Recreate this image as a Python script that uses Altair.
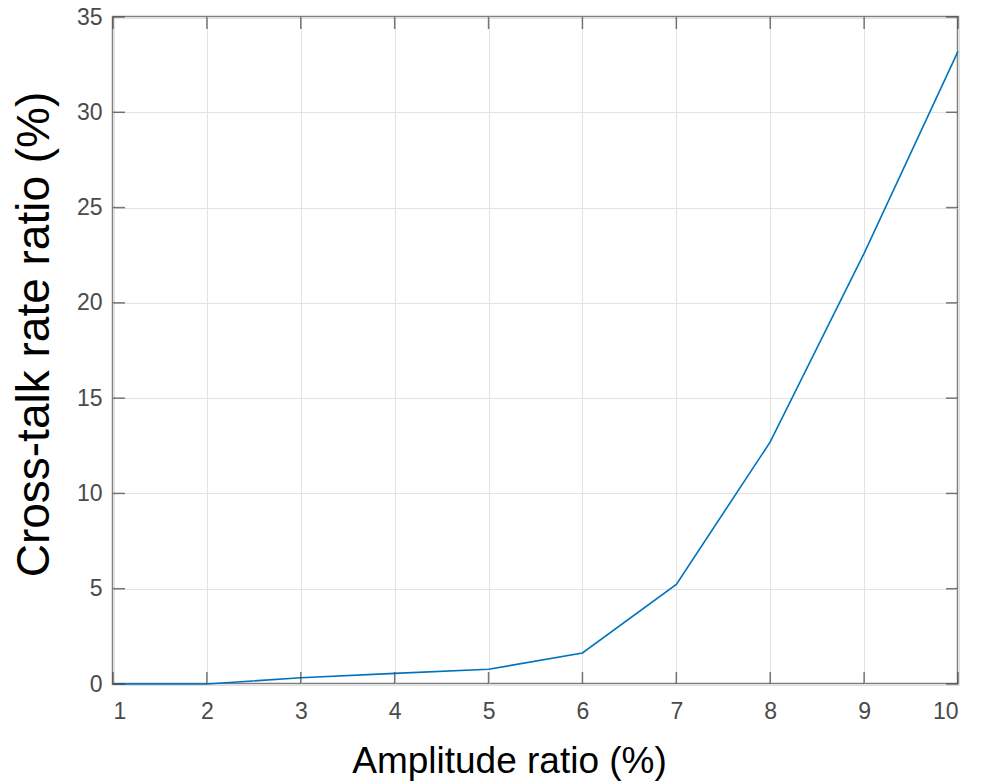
import altair as alt
import pandas as pd

amplitude = [1, 2, 3, 4, 5, 6, 7, 8, 9, 10]
crosstalk = [0.0, 0.0, 0.33, 0.56, 0.77, 1.63, 5.23, 12.7, 22.6, 33.2]
x_ticks = list(range(1, 11))
y_ticks = [0, 5, 10, 15, 20, 25, 30, 35]

df = pd.DataFrame({"a": amplitude, "c": crosstalk})
xt = pd.DataFrame({"a": x_ticks})
yt = pd.DataFrame({"c": y_ticks})

font = "Liberation Sans"
xs = alt.Scale(domain=[1, 10], nice=False, zero=False)
ys = alt.Scale(domain=[0, 35], nice=False)
tick_col = "#404040"
lab_col = "#4a4a4a"

main = alt.Chart(df).mark_line(color="#0072BD", strokeWidth=1.6).encode(
    x=alt.X("a:Q", scale=xs, title="Amplitude ratio (%)",
            axis=alt.Axis(values=x_ticks, format="d", orient="bottom", grid=True,
                          gridColor="#e3e3e3", gridWidth=1, domain=False, ticks=False,
                          labelFont=font, labelFontSize=23, labelColor=lab_col,
                          labelPadding=16, titleFont=font, titleFontSize=37,
                          titleFontWeight="normal", titleColor="#000000",
                          titleX=396, titleY=77, titleBaseline="middle", titleAlign="center")),
    y=alt.Y("c:Q", scale=ys, title="Cross-talk rate ratio (%)",
            axis=alt.Axis(values=y_ticks, format="d", orient="left", grid=True,
                          gridColor="#e3e3e3", gridWidth=1, domain=False, ticks=False,
                          labelFont=font, labelFontSize=23, labelColor=lab_col,
                          labelPadding=11, titleFont=font, titleFontSize=46,
                          titleFontWeight="normal", titleColor="#000000",
                          titleX=-79, titleY=317, titleBaseline="middle", titleAlign="center",
                          titleAngle=270)),
)

bottom_ticks = alt.Chart(xt).mark_tick(orient="vertical", size=12, thickness=1.5,
                                       color=tick_col, yOffset=-6).encode(
    x=alt.X("a:Q", scale=xs), y=alt.datum(0))
top_ticks = alt.Chart(xt).mark_tick(orient="vertical", size=12, thickness=1.5,
                                    color=tick_col, yOffset=6).encode(
    x=alt.X("a:Q", scale=xs), y=alt.datum(35))
left_ticks = alt.Chart(yt).mark_tick(orient="horizontal", size=12, thickness=1.5,
                                     color=tick_col, xOffset=6).encode(
    y=alt.Y("c:Q", scale=ys), x=alt.datum(1))
right_ticks = alt.Chart(yt).mark_tick(orient="horizontal", size=12, thickness=1.5,
                                      color=tick_col, xOffset=-6).encode(
    y=alt.Y("c:Q", scale=ys), x=alt.datum(10))

chart = alt.layer(main, bottom_ticks, top_ticks, left_ticks, right_ticks).properties(
    width=845, height=667,
    autosize=alt.AutoSizeParams(type="none"),
    padding={"left": 113, "top": 17, "right": 30, "bottom": 99},
    background="white",
).configure_view(stroke="#7f7f7f", strokeWidth=2.5)

chart.save("out.html", embed_options={"renderer": "svg", "actions": False})
